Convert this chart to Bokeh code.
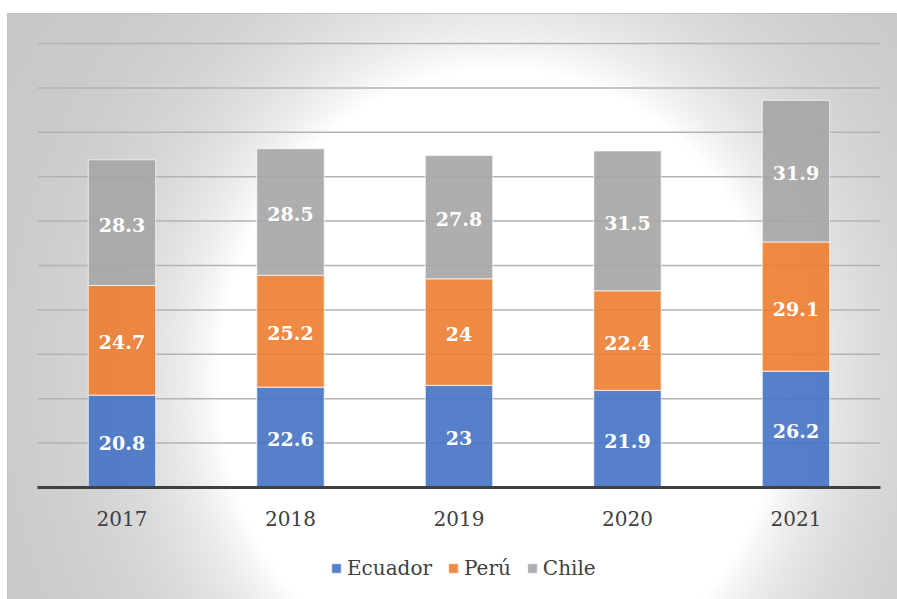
import numpy as np
from bokeh.plotting import figure
from bokeh.models import Range1d, FixedTicker, Legend, LegendItem, ColumnDataSource
from bokeh.core.properties import value
from bokeh.embed import file_html
from bokeh.resources import INLINE

# ---- data ----
years = [2017, 2018, 2019, 2020, 2021]
series = ["Ecuador", "Perú", "Chile"]
ecuador = [20.8, 22.6, 23.0, 21.9, 26.2]
peru = [24.7, 25.2, 24.0, 22.4, 29.1]
chile = [28.3, 28.5, 27.8, 31.5, 31.9]
grid_values = [10, 20, 30, 40, 50, 60, 70, 80, 90, 100]

colors = ["#4472C4", "#ED7D31", "#A5A5A5"]
FONT_NAME = "DejaVu Serif"

W, H = 897, 599
LEFT, TOP = 7, 13
x0, x1 = 2016.3205, 2021.6024
y0, y1 = -25.23, 106.76

p = figure(width=W, height=H, output_backend="svg", toolbar_location=None,
           x_range=Range1d(x0, x1), y_range=Range1d(y0, y1),
           x_axis_location="below", y_axis_location=None,
           min_border_left=LEFT, min_border_right=0, min_border_top=TOP, min_border_bottom=0,
           tools="")
p.border_fill_color = "white"
p.background_fill_color = "#e6e6e6"
p.outline_line_color = "#bfbfbf"
p.outline_line_width = 1
p.xgrid.visible = False
p.ygrid.visible = False

# ---- radial background gradient (styling) ----
fw, fh = W - LEFT, H - TOP
nx, ny = fw // 2, fh // 2
sx = LEFT + (np.arange(nx) + 0.5) * fw / nx
sy = TOP + (np.arange(ny) + 0.5) * fh / ny
SX, SY = np.meshgrid(sx, sy)
r = np.sqrt(((SX - 500) / 470) ** 2 + ((SY - 380) / 520) ** 2)
delta = 57 * (1 - np.exp(-np.clip(r - 0.6, 0, None) / 0.2))
g = np.clip(255 - delta, 0, 255).astype(np.uint8)
img = np.empty((ny, nx), dtype=np.uint32)
view = img.view(dtype=np.uint8).reshape((ny, nx, 4))
view[:, :, 0] = g
view[:, :, 1] = g
view[:, :, 2] = g
view[:, :, 3] = 255
img = img[::-1]
p.image_rgba(image=[img], x=x0, y=y0, dw=x1 - x0, dh=y1 - y0)

# ---- gridlines ----
gx0, gx1 = years[0] - 0.5, years[-1] + 0.5
p.segment(x0=[gx0] * len(grid_values), x1=[gx1] * len(grid_values),
          y0=grid_values, y1=grid_values, line_color="#b3b3b3", line_width=1.5)

# ---- stacked bars ----
src = ColumnDataSource(dict(year=years, Ecuador=ecuador, **{"Perú": peru}, Chile=chile))
rends = p.vbar_stack(series, x="year", width=0.4, source=src, color=colors,
                     fill_alpha=0.9, line_color="white", line_alpha=0.7, line_width=1)

# ---- data labels ----
vals = np.array([ecuador, peru, chile])
cum = np.cumsum(vals, axis=0)
mids = cum - vals / 2
lx, ly, lt = [], [], []
for i in range(len(series)):
    for j, yr in enumerate(years):
        lx.append(yr)
        ly.append(mids[i, j])
        lt.append(f"{vals[i, j]:g}")
p.text(x=lx, y=ly, text=lt, text_color="white", text_font=value(FONT_NAME), text_font_style="bold",
       text_font_size="19px", text_align="center", text_baseline="middle", y_offset=2)

# ---- x axis at zero ----
ax = p.xaxis[0]
ax.fixed_location = 0
ax.ticker = FixedTicker(ticks=years)
ax.bounds = (gx0, gx1)
ax.axis_line_color = "#404040"
ax.axis_line_width = 3
ax.major_tick_line_color = None
ax.minor_tick_line_color = None
ax.major_label_text_font = FONT_NAME
ax.major_label_text_font_size = "20px"
ax.major_label_text_color = "#404040"
ax.major_label_standoff = 18

# ---- legend ----
legend = Legend(items=[LegendItem(label=s, renderers=[r_]) for s, r_ in zip(series, rends)],
                orientation="horizontal", location=(323, 19),
                glyph_width=12, glyph_height=12, label_standoff=5, spacing=15,
                padding=0, margin=0, border_line_color=None, background_fill_alpha=0,
                label_text_font=FONT_NAME, label_text_font_size="20px",
                label_text_color="#404040")
p.add_layout(legend, "center")

open("out.html", "w").write(file_html(p, INLINE))
